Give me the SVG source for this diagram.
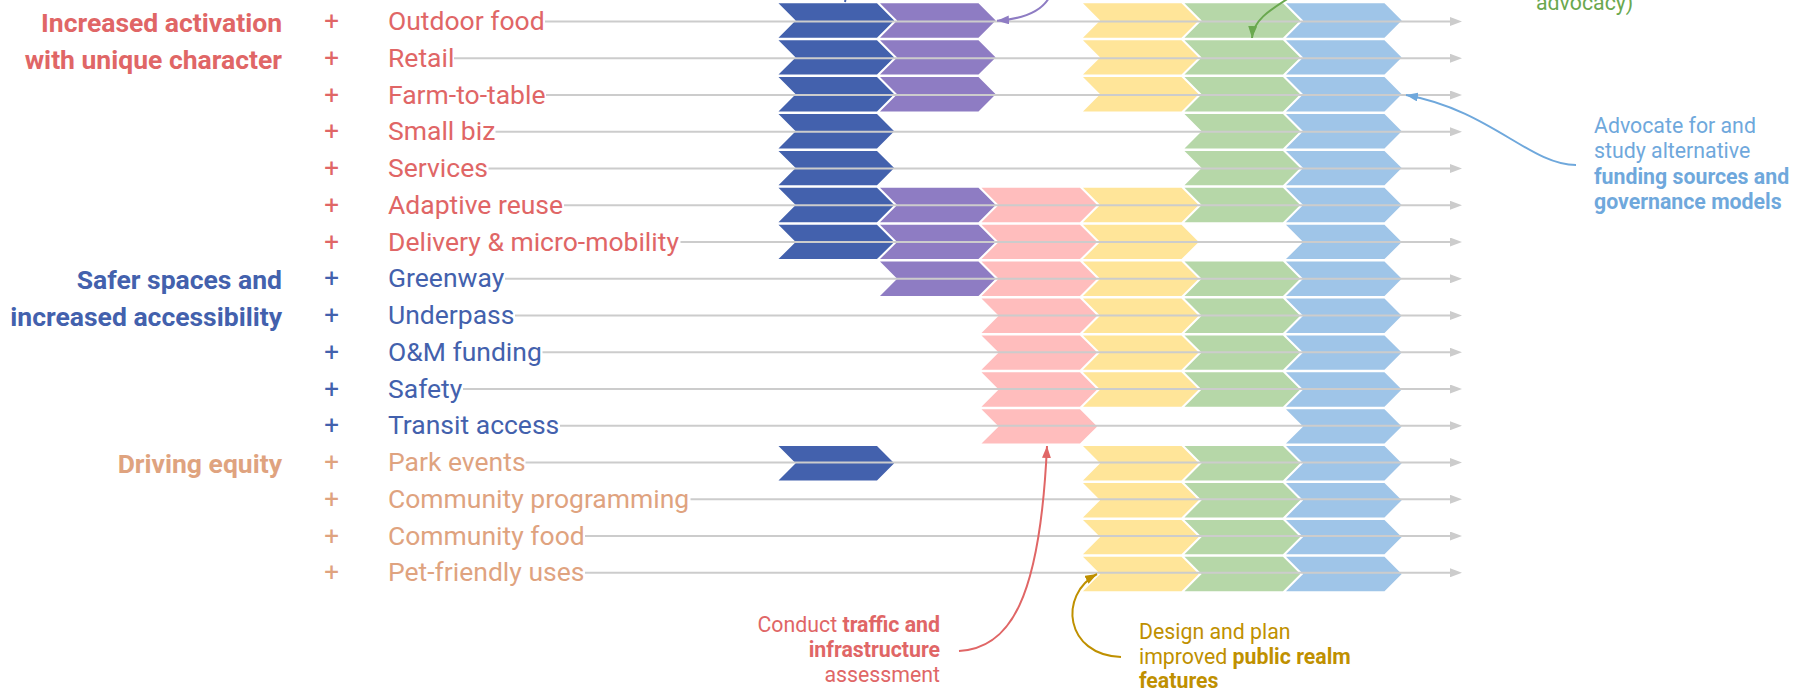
<svg xmlns="http://www.w3.org/2000/svg" xmlns:xlink="http://www.w3.org/1999/xlink" width="1807" height="697" viewBox="0 0 1807 697">
  <style>
    text { font-family: Roboto, "Liberation Sans", sans-serif; }
    .head { font-size: 26.5px; font-weight: 700; text-anchor: end; }
    .lbl { font-size: 26.5px; font-weight: 400; }
    .plus { font-size: 26px; font-weight: 400; text-anchor: middle; }
    .note { font-size: 21.3px; font-weight: 400; }
    .b { font-weight: 700; }
    .red { fill: #e06666; }
    .navy { fill: #4361ad; }
    .peach { fill: #dfa37f; }
    .c0 { fill: #4361ad; }
    .c1 { fill: #8e7cc3; }
    .c2 { fill: #ffbdbd; }
    .c3 { fill: #ffe599; }
    .c4 { fill: #b6d7a8; }
    .c5 { fill: #9fc5e8; }
    .track { stroke: #cccccc; stroke-width: 2; fill: none; marker-end: url(#ah-gray); }
    .callout { fill: none; stroke-width: 2; }
  </style>
  <defs>
    <!-- one step of a timeline row, centred vertically on its origin -->
    <path id="chev" d="M0,-17.2 H98.5 L115.7,0 L98.5,17.2 H0 L17.2,0 Z"/>
    <marker id="ah-gray" markerWidth="12" markerHeight="9" refX="0" refY="4.5" orient="auto" markerUnits="userSpaceOnUse">
      <path d="M0,0 L12,4.5 L0,9 Z" fill="#cccccc"/>
    </marker>
    <marker id="ah-purple" markerWidth="13" markerHeight="9" refX="12" refY="4.5" orient="auto" markerUnits="userSpaceOnUse">
      <path d="M0,0 L12,4.5 L0,9 Z" fill="#8e7cc3"/>
    </marker>
    <marker id="ah-green" markerWidth="13" markerHeight="9" refX="12" refY="4.5" orient="auto" markerUnits="userSpaceOnUse">
      <path d="M0,0 L12,4.5 L0,9 Z" fill="#6aa84f"/>
    </marker>
    <marker id="ah-sky" markerWidth="13" markerHeight="9" refX="12" refY="4.5" orient="auto" markerUnits="userSpaceOnUse">
      <path d="M0,0 L12,4.5 L0,9 Z" fill="#6fa8dc"/>
    </marker>
    <marker id="ah-red" markerWidth="13" markerHeight="9" refX="12" refY="4.5" orient="auto" markerUnits="userSpaceOnUse">
      <path d="M0,0 L12,4.5 L0,9 Z" fill="#e06666"/>
    </marker>
    <marker id="ah-gold" markerWidth="13" markerHeight="9" refX="12" refY="4.5" orient="auto" markerUnits="userSpaceOnUse">
      <path d="M0,0 L12,4.5 L0,9 Z" fill="#bf9000"/>
    </marker>
  </defs>

  <rect width="1807" height="697" fill="#ffffff"/>

  <!-- goal headings -->
  <g id="goal-activation" class="red">
    <text class="head" x="282" y="32">Increased activation</text>
    <text class="head" x="282" y="68.75">with unique character</text>
  </g>
  <g id="goal-safety" class="navy">
    <text class="head" x="282" y="289.25">Safer spaces and</text>
    <text class="head" x="282" y="326">increased accessibility</text>
  </g>
  <g id="goal-equity" class="peach">
    <text class="head" x="282" y="473">Driving equity</text>
  </g>

  <!-- rows: marker, label and the phases that apply -->
  <g id="row-outdoor-food" class="red">
    <text class="plus" x="331.7" y="30">+</text>
    <text class="lbl" x="388" y="30">Outdoor food</text>
    <use xlink:href="#chev" x="778.5" y="20.5" class="c0"/>
    <use xlink:href="#chev" x="880" y="20.5" class="c1"/>
    <use xlink:href="#chev" x="1083" y="20.5" class="c3"/>
    <use xlink:href="#chev" x="1184.5" y="20.5" class="c4"/>
    <use xlink:href="#chev" x="1286" y="20.5" class="c5"/>
  </g>
  <g id="row-retail" class="red">
    <text class="plus" x="331.7" y="66.75">+</text>
    <text class="lbl" x="388" y="66.75">Retail</text>
    <use xlink:href="#chev" x="778.5" y="57.4" class="c0"/>
    <use xlink:href="#chev" x="880" y="57.4" class="c1"/>
    <use xlink:href="#chev" x="1083" y="57.4" class="c3"/>
    <use xlink:href="#chev" x="1184.5" y="57.4" class="c4"/>
    <use xlink:href="#chev" x="1286" y="57.4" class="c5"/>
  </g>
  <g id="row-farm-to-table" class="red">
    <text class="plus" x="331.7" y="103.5">+</text>
    <text class="lbl" x="388" y="103.5">Farm-to-table</text>
    <use xlink:href="#chev" x="778.5" y="94.3" class="c0"/>
    <use xlink:href="#chev" x="880" y="94.3" class="c1"/>
    <use xlink:href="#chev" x="1083" y="94.3" class="c3"/>
    <use xlink:href="#chev" x="1184.5" y="94.3" class="c4"/>
    <use xlink:href="#chev" x="1286" y="94.3" class="c5"/>
  </g>
  <g id="row-small-biz" class="red">
    <text class="plus" x="331.7" y="140.25">+</text>
    <text class="lbl" x="388" y="140.25">Small biz</text>
    <use xlink:href="#chev" x="778.5" y="131.2" class="c0"/>
    <use xlink:href="#chev" x="1184.5" y="131.2" class="c4"/>
    <use xlink:href="#chev" x="1286" y="131.2" class="c5"/>
  </g>
  <g id="row-services" class="red">
    <text class="plus" x="331.7" y="177">+</text>
    <text class="lbl" x="388" y="177">Services</text>
    <use xlink:href="#chev" x="778.5" y="168.1" class="c0"/>
    <use xlink:href="#chev" x="1184.5" y="168.1" class="c4"/>
    <use xlink:href="#chev" x="1286" y="168.1" class="c5"/>
  </g>
  <g id="row-adaptive-reuse" class="red">
    <text class="plus" x="331.7" y="213.75">+</text>
    <text class="lbl" x="388" y="213.75">Adaptive reuse</text>
    <use xlink:href="#chev" x="778.5" y="205" class="c0"/>
    <use xlink:href="#chev" x="880" y="205" class="c1"/>
    <use xlink:href="#chev" x="981.5" y="205" class="c2"/>
    <use xlink:href="#chev" x="1083" y="205" class="c3"/>
    <use xlink:href="#chev" x="1184.5" y="205" class="c4"/>
    <use xlink:href="#chev" x="1286" y="205" class="c5"/>
  </g>
  <g id="row-delivery" class="red">
    <text class="plus" x="331.7" y="250.5">+</text>
    <text class="lbl" x="388" y="250.5">Delivery &amp; micro-mobility</text>
    <use xlink:href="#chev" x="778.5" y="241.9" class="c0"/>
    <use xlink:href="#chev" x="880" y="241.9" class="c1"/>
    <use xlink:href="#chev" x="981.5" y="241.9" class="c2"/>
    <use xlink:href="#chev" x="1083" y="241.9" class="c3"/>
    <use xlink:href="#chev" x="1286" y="241.9" class="c5"/>
  </g>
  <g id="row-greenway" class="navy">
    <text class="plus" x="331.7" y="287.25">+</text>
    <text class="lbl" x="388" y="287.25">Greenway</text>
    <use xlink:href="#chev" x="880" y="278.8" class="c1"/>
    <use xlink:href="#chev" x="981.5" y="278.8" class="c2"/>
    <use xlink:href="#chev" x="1083" y="278.8" class="c3"/>
    <use xlink:href="#chev" x="1184.5" y="278.8" class="c4"/>
    <use xlink:href="#chev" x="1286" y="278.8" class="c5"/>
  </g>
  <g id="row-underpass" class="navy">
    <text class="plus" x="331.7" y="324">+</text>
    <text class="lbl" x="388" y="324">Underpass</text>
    <use xlink:href="#chev" x="981.5" y="315.7" class="c2"/>
    <use xlink:href="#chev" x="1083" y="315.7" class="c3"/>
    <use xlink:href="#chev" x="1184.5" y="315.7" class="c4"/>
    <use xlink:href="#chev" x="1286" y="315.7" class="c5"/>
  </g>
  <g id="row-om-funding" class="navy">
    <text class="plus" x="331.7" y="360.75">+</text>
    <text class="lbl" x="388" y="360.75">O&amp;M funding</text>
    <use xlink:href="#chev" x="981.5" y="352.6" class="c2"/>
    <use xlink:href="#chev" x="1083" y="352.6" class="c3"/>
    <use xlink:href="#chev" x="1184.5" y="352.6" class="c4"/>
    <use xlink:href="#chev" x="1286" y="352.6" class="c5"/>
  </g>
  <g id="row-safety" class="navy">
    <text class="plus" x="331.7" y="397.5">+</text>
    <text class="lbl" x="388" y="397.5">Safety</text>
    <use xlink:href="#chev" x="981.5" y="389.5" class="c2"/>
    <use xlink:href="#chev" x="1083" y="389.5" class="c3"/>
    <use xlink:href="#chev" x="1184.5" y="389.5" class="c4"/>
    <use xlink:href="#chev" x="1286" y="389.5" class="c5"/>
  </g>
  <g id="row-transit-access" class="navy">
    <text class="plus" x="331.7" y="434.25">+</text>
    <text class="lbl" x="388" y="434.25">Transit access</text>
    <use xlink:href="#chev" x="981.5" y="426.4" class="c2"/>
    <use xlink:href="#chev" x="1286" y="426.4" class="c5"/>
  </g>
  <g id="row-park-events" class="peach">
    <text class="plus" x="331.7" y="471">+</text>
    <text class="lbl" x="388" y="471">Park events</text>
    <use xlink:href="#chev" x="778.5" y="463.3" class="c0"/>
    <use xlink:href="#chev" x="1083" y="463.3" class="c3"/>
    <use xlink:href="#chev" x="1184.5" y="463.3" class="c4"/>
    <use xlink:href="#chev" x="1286" y="463.3" class="c5"/>
  </g>
  <g id="row-community-programming" class="peach">
    <text class="plus" x="331.7" y="507.75">+</text>
    <text class="lbl" x="388" y="507.75">Community programming</text>
    <use xlink:href="#chev" x="1083" y="500.2" class="c3"/>
    <use xlink:href="#chev" x="1184.5" y="500.2" class="c4"/>
    <use xlink:href="#chev" x="1286" y="500.2" class="c5"/>
  </g>
  <g id="row-community-food" class="peach">
    <text class="plus" x="331.7" y="544.5">+</text>
    <text class="lbl" x="388" y="544.5">Community food</text>
    <use xlink:href="#chev" x="1083" y="537.1" class="c3"/>
    <use xlink:href="#chev" x="1184.5" y="537.1" class="c4"/>
    <use xlink:href="#chev" x="1286" y="537.1" class="c5"/>
  </g>
  <g id="row-pet-friendly" class="peach">
    <text class="plus" x="331.7" y="581.25">+</text>
    <text class="lbl" x="388" y="581.25">Pet-friendly uses</text>
    <use xlink:href="#chev" x="1083" y="574" class="c3"/>
    <use xlink:href="#chev" x="1184.5" y="574" class="c4"/>
    <use xlink:href="#chev" x="1286" y="574" class="c5"/>
  </g>

  <!-- row tracks and callout leaders -->
  <g id="connectors">
    <path class="track" d="M545,21.5 H1450"/>
    <path class="track" d="M454,58.25 H1450"/>
    <path class="track" d="M546,95 H1450"/>
    <path class="track" d="M495.5,131.75 H1450"/>
    <path class="track" d="M488.5,168.5 H1450"/>
    <path class="track" d="M564,205.25 H1450"/>
    <path class="track" d="M680.5,242 H1450"/>
    <path class="track" d="M505,278.75 H1450"/>
    <path class="track" d="M515,315.5 H1450"/>
    <path class="track" d="M542.5,352.25 H1450"/>
    <path class="track" d="M463,389 H1450"/>
    <path class="track" d="M560,425.75 H1450"/>
    <path class="track" d="M525.5,462.5 H1450"/>
    <path class="track" d="M690.5,499.25 H1450"/>
    <path class="track" d="M585,536 H1450"/>
    <path class="track" d="M585,572.75 H1450"/>

    <path class="callout" stroke="#4361ad" d="M846.5,-6 L845,2"/>
    <path class="callout" stroke="#8e7cc3" marker-end="url(#ah-purple)" d="M1050,-4 C1042,12 1022,19 997,20.7"/>
    <path class="callout" stroke="#6aa84f" marker-end="url(#ah-green)" d="M1292,-4 C1270,10 1253,20 1252,38"/>
    <path class="callout" stroke="#6fa8dc" marker-end="url(#ah-sky)" d="M1576,165 C1530,165 1490,110 1406,95"/>
    <path class="callout" stroke="#e06666" marker-end="url(#ah-red)" d="M959,651 C1010,648 1040,600 1047,446"/>
    <path class="callout" stroke="#bf9000" marker-end="url(#ah-gold)" d="M1121,657 C1065,655 1058,595 1097,574"/>
  </g>

  <!-- callout notes -->
  <g id="note-advocacy" fill="#6aa84f">
    <text class="note" x="1536" y="10">advocacy)</text>
  </g>
  <g id="note-funding" fill="#6fa8dc">
    <text class="note" x="1594" y="133">Advocate for and</text>
    <text class="note" x="1594" y="158">study alternative</text>
    <text class="note b" x="1594" y="183.5">funding sources and</text>
    <text class="note b" x="1594" y="208.5">governance models</text>
  </g>
  <g id="note-traffic" fill="#e06666">
    <text class="note" x="940" y="632" text-anchor="end">Conduct <tspan class="b">traffic and</tspan></text>
    <text class="note b" x="940" y="657" text-anchor="end">infrastructure</text>
    <text class="note" x="940" y="682" text-anchor="end">assessment</text>
  </g>
  <g id="note-public-realm" fill="#bf9000">
    <text class="note" x="1139" y="638.5">Design and plan</text>
    <text class="note" x="1139" y="663.5">improved <tspan class="b">public realm</tspan></text>
    <text class="note b" x="1139" y="688">features</text>
  </g>
</svg>
